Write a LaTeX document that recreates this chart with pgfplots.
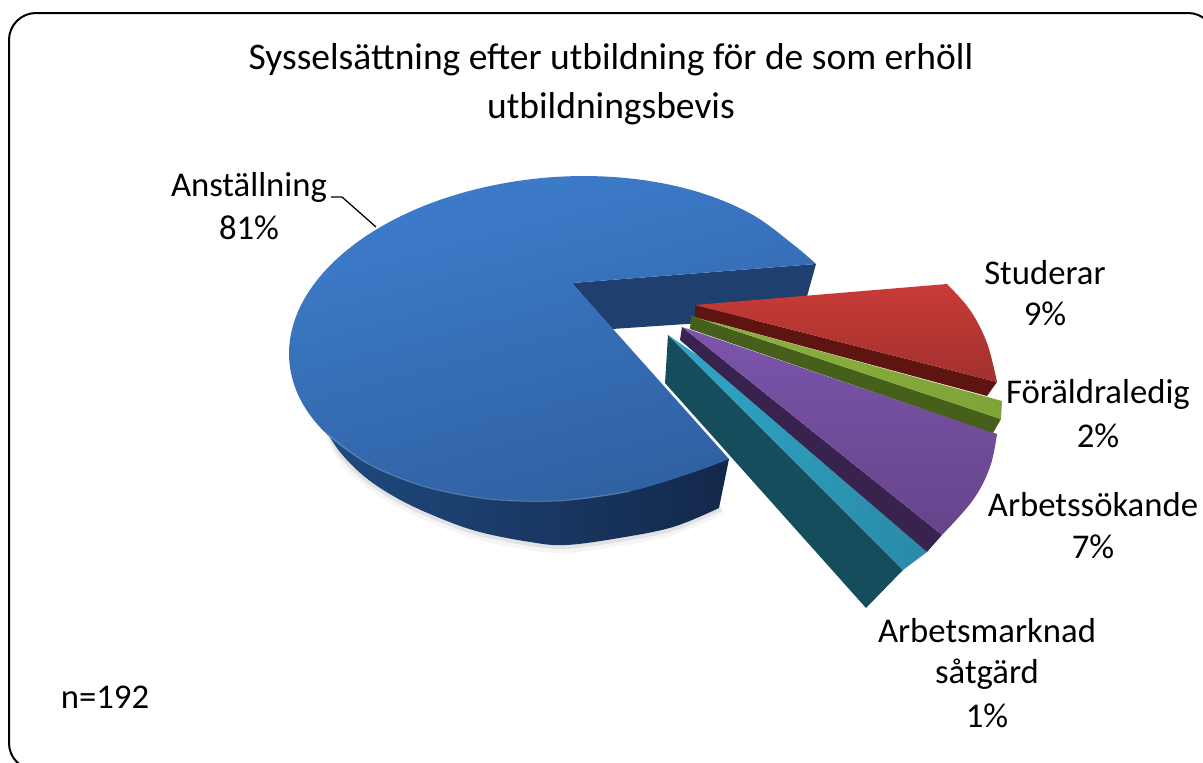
\documentclass[border=0pt]{standalone}
\usepackage{pgfplots}
\pgfplotsset{compat=1.18}
\usepackage{fontspec}
\setmainfont{Carlito}
\definecolor{bluetopA}{HTML}{3D7CCC}
\definecolor{bluetopB}{HTML}{2F60A0}
\definecolor{bluesideA}{HTML}{1F4A80}
\definecolor{bluesideB}{HTML}{13284A}
\definecolor{bluein}{HTML}{1F3F6E}
\definecolor{redA}{HTML}{C93B37}
\definecolor{redB}{HTML}{A1312D}
\definecolor{redS}{HTML}{5E1512}
\definecolor{greenA}{HTML}{8CB43E}
\definecolor{greenB}{HTML}{7FA337}
\definecolor{greenS}{HTML}{465F1B}
\definecolor{purA}{HTML}{7C55AB}
\definecolor{purB}{HTML}{66448A}
\definecolor{purS}{HTML}{38234F}
\definecolor{tealA}{HTML}{30A6C6}
\definecolor{tealB}{HTML}{2A8AA7}
\definecolor{tealS}{HTML}{164D5C}
\begin{document}
\begin{tikzpicture}[x=1pt,y=1pt]
\path[use as bounding box] (0,0) rectangle (1203,763);
\begin{axis}[at={(0,0)},anchor=south west,scale only axis,width=1203pt,height=763pt,
 xmin=0,xmax=1203,ymin=0,ymax=763,y dir=reverse,hide axis,clip=true]
% soft shadow
\addplot[draw=black,line width=8pt,opacity=0.04,no marks,smooth,forget plot] coordinates {(326,424)(340,456)(365,481)(395,501)(430,518)(476,535)(530,546)(566,549)(619,542)(673,531)(722,510)};
\addplot[draw=black,line width=4pt,opacity=0.08,no marks,smooth,forget plot] coordinates {(324,424)(340,454)(365,479)(395,499)(430,516)(476,533)(530,544)(566,547)(619,540)(673,529)(721,509)};
% main slice: inner wall
\addplot[fill=bluein,draw=none,no marks] coordinates {(572,283)(816,264)(806,300)(806,316)(612,329)(572,283)};
% main slice: outer wall
\addplot[left color=bluesideA,right color=bluesideB,draw=none,no marks,smooth,tension=0.6] coordinates {(322,424)(340,452)(365,477)(395,497)(430,514)(476,531)(530,542)(566,545)(619,538)(673,527)(719,508)} -- (axis cs:729,459) -- (axis cs:500,400) -- cycle;
% main slice: top
\addplot[top color=bluetopA,bottom color=bluetopB,shading angle=15,draw=none,no marks,smooth,tension=0.6] coordinates {(816,264)(793.8,245)(750.8,213.8)(694.8,191)(629.5,178.4)(559.5,176.7)(489.5,186.1)(424.2,205.8)(368.2,234.6)(325.2,270.6)(298.2,311.1)(289,353.5)(298.2,395)(325.2,432.6)(368.2,463.9)(424.2,486.6)(489.5,499.2)(559.5,500.9)(629.5,491.5)(694.8,471.8)(729,459)} -- (axis cs:572,283) -- cycle;
% highlight along the lower rim
\addplot[draw=white,opacity=0.18,line width=1.2pt,no marks,smooth,forget plot] coordinates {(325.2,432.6)(368.2,463.9)(424.2,486.6)(489.5,499.2)(559.5,500.9)(629.5,491.5)};
% teal
\addplot[fill=tealS,draw=none,no marks] coordinates {(668,335)(665,383)(866,608)(903,570)(668,335)};
\addplot[left color=tealA,right color=tealB,draw=none,no marks] coordinates {(668,335)(700,357)(927,552)(903,570)(668,335)};
% purple
\addplot[fill=purS,draw=none,no marks] coordinates {(682,327)(680,340)(927,552)(942,535)(682,327)};
\addplot[top color=purA,bottom color=purB,draw=none,no marks,smooth,tension=0.6] coordinates {(997,434)(990,467)(973,500)(942,535)} -- (axis cs:682,327) -- cycle;
% green
\addplot[fill=greenS,draw=none,no marks] coordinates {(691,316)(690,329)(993,433)(1001,419)(691,316)};
\addplot[left color=greenA,right color=greenB,draw=none,no marks] coordinates {(691,316)(1002,401)(1001,419)(691,316)};
% red
\addplot[fill=redS,draw=none,no marks] coordinates {(695,305)(695,317)(987,396)(997,382)(695,305)};
\addplot[top color=redA,bottom color=redB,draw=none,no marks,smooth,tension=0.6] coordinates {(947,284)(970,310)(987,343)(997,382)} -- (axis cs:695,305) -- cycle;
% leader line
\addplot[draw=black,line width=1.3pt,no marks] coordinates {(331,197)(342,197)(376,227)};
% frame
\draw[black,line width=2pt,rounded corners=27pt] (axis cs:9,13) rectangle (axis cs:1215,770);
% texts
\def\fs{\fontsize{34.7}{34.7}\selectfont}
\def\ts{\fontsize{37.5}{37.5}\selectfont}
\node[font=\ts] at (axis cs:611,60) {Sysselsättning efter utbildning för de som erhöll};
\node[font=\ts] at (axis cs:611,109) {utbildningsbevis};
\node[font=\fs] at (axis cs:249,187) {Anställning};
\node[font=\fs] at (axis cs:249,228) {81\%};
\node[font=\fs] at (axis cs:1045,273) {Studerar};
\node[font=\fs] at (axis cs:1045,314) {9\%};
\node[font=\fs] at (axis cs:1098,394) {Föräldraledig};
\node[font=\fs] at (axis cs:1098,436) {2\%};
\node[font=\fs] at (axis cs:1093,505) {Arbetssökande};
\node[font=\fs] at (axis cs:1093,547) {7\%};
\node[font=\fs] at (axis cs:987,631) {Arbetsmarknad};
\node[font=\fs] at (axis cs:987,674) {såtgärd};
\node[font=\fs] at (axis cs:987,716) {1\%};
\node[font=\fs] at (axis cs:105,697) {n=192};
\end{axis}
\end{tikzpicture}
\end{document}
